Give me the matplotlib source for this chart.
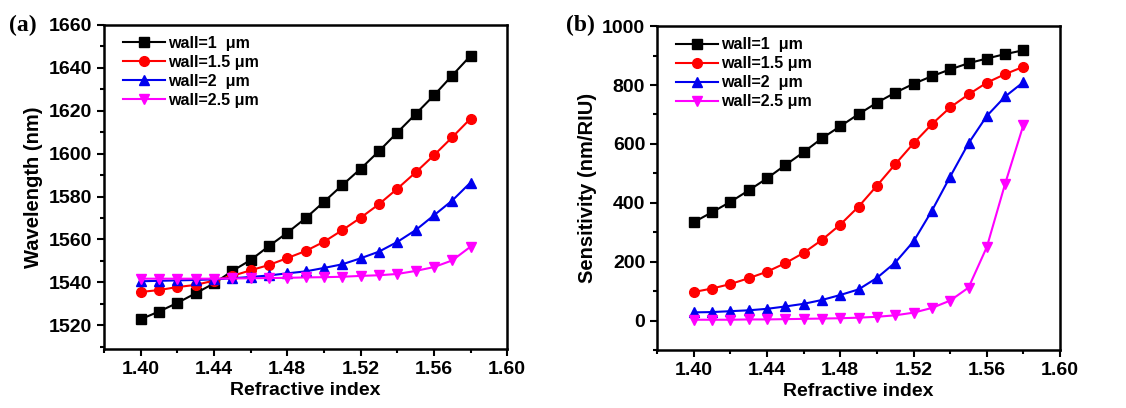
import matplotlib
matplotlib.use("Agg")
import matplotlib.pyplot as plt
from matplotlib.ticker import MultipleLocator, AutoMinorLocator

plt.rcParams['font.family'] = ['Liberation Sans', 'DejaVu Sans']
plt.rcParams['font.weight'] = 'bold'

# refractive index values
n_index = [1.40, 1.41, 1.42, 1.43, 1.44, 1.45, 1.46, 1.47, 1.48, 1.49,
           1.50, 1.51, 1.52, 1.53, 1.54, 1.55, 1.56, 1.57, 1.58]

labels = ['wall=1  μm', 'wall=1.5 μm', 'wall=2  μm', 'wall=2.5 μm']

# (a) resonance wavelength (nm)
wl_1 = [1522.8, 1526.4, 1530.4, 1534.9, 1539.5, 1545.3, 1550.4, 1556.9, 1563.1, 1569.9,
        1577.5, 1585.3, 1592.9, 1601.1, 1609.8, 1618.4, 1627.1, 1636.4, 1645.6]
wl_15 = [1535.5, 1536.4, 1537.8, 1538.8, 1540.8, 1543.0, 1545.6, 1548.1, 1551.3, 1554.6,
         1558.9, 1564.3, 1570.1, 1576.4, 1583.6, 1591.2, 1599.2, 1607.6, 1616.3]
wl_2 = [1540.5, 1540.7, 1540.9, 1541.1, 1541.4, 1541.9, 1542.5, 1543.2, 1544.2, 1545.1,
        1546.7, 1548.4, 1551.2, 1554.3, 1558.8, 1564.3, 1571.2, 1578.1, 1586.5]
wl_25 = [1541.7, 1541.7, 1541.7, 1541.7, 1541.7, 1541.8, 1541.9, 1542.0, 1542.1, 1542.3,
         1542.4, 1542.6, 1543.0, 1543.3, 1543.9, 1545.3, 1547.1, 1550.2, 1556.6]

# (b) sensitivity (nm/RIU)
s_1 = [334, 368, 403, 442, 483, 528, 572, 619, 660, 701,
       740, 774, 804, 830, 853, 874, 890, 905, 918]
s_15 = [97, 109, 124, 144, 166, 195, 230, 274, 326, 387,
        458, 531, 602, 667, 724, 768, 808, 837, 862]
s_2 = [28, 29, 32, 35, 40, 48, 57, 70, 87, 106,
       145, 197, 269, 373, 489, 602, 695, 761, 810]
s_25 = [3, 3, 3, 4, 4, 5, 6, 7, 8, 10,
        13, 18, 27, 43, 68, 112, 250, 465, 665]

colors = ['black', '#ff0000', '#0000ee', '#ff00ff']
markers = ['s', 'o', '^', 'v']

fig = plt.figure(figsize=(11.26, 4.08), dpi=100)
ax1 = fig.add_axes([0.0924, 0.145, 0.358, 0.794])
ax2 = fig.add_axes([0.5835, 0.142, 0.358, 0.794])


def draw(ax, series, ylabel, ylim, ymajor):
    for y, c, m, lab in zip(series, colors, markers, labels):
        ax.plot(n_index, y, color=c, marker=m, markersize=7, linewidth=1.5, label=lab)
    ax.set_xlim(1.38, 1.60)
    ax.set_ylim(*ylim)
    ax.xaxis.set_major_locator(MultipleLocator(0.04))
    ax.xaxis.set_minor_locator(AutoMinorLocator(2))
    ax.yaxis.set_major_locator(MultipleLocator(ymajor))
    ax.yaxis.set_minor_locator(AutoMinorLocator(2))
    ax.xaxis.set_major_formatter(plt.FormatStrFormatter('%.2f'))
    ax.tick_params(which='both', direction='out', width=1.5, labelsize=14)
    ax.tick_params(which='major', length=5)
    ax.tick_params(which='minor', length=3)
    for s in ax.spines.values():
        s.set_linewidth(1.8)
    ax.set_xlabel('Refractive index', fontsize=14, fontweight='bold', labelpad=3)
    ax.set_ylabel(ylabel, fontsize=14.5, fontweight='bold', labelpad=4)
    ax.legend(loc='upper left', frameon=False, fontsize=11.5, handlelength=2.6,
              handletextpad=0.2, labelspacing=0.25, borderaxespad=0.3,
              bbox_to_anchor=(0.02, 1.0))


draw(ax1, [wl_1, wl_15, wl_2, wl_25], 'Wavelength (nm)', (1509, 1660), 20)
draw(ax2, [s_1, s_15, s_2, s_25], 'Sensitivity (nm/RIU)', (-100, 1000), 200)

fig.text(0.008, 0.925, '(a)', fontsize=17, fontweight='bold', family='Liberation Serif')
fig.text(0.503, 0.925, '(b)', fontsize=17, fontweight='bold', family='Liberation Serif')

fig.savefig('out.png', dpi=100)
